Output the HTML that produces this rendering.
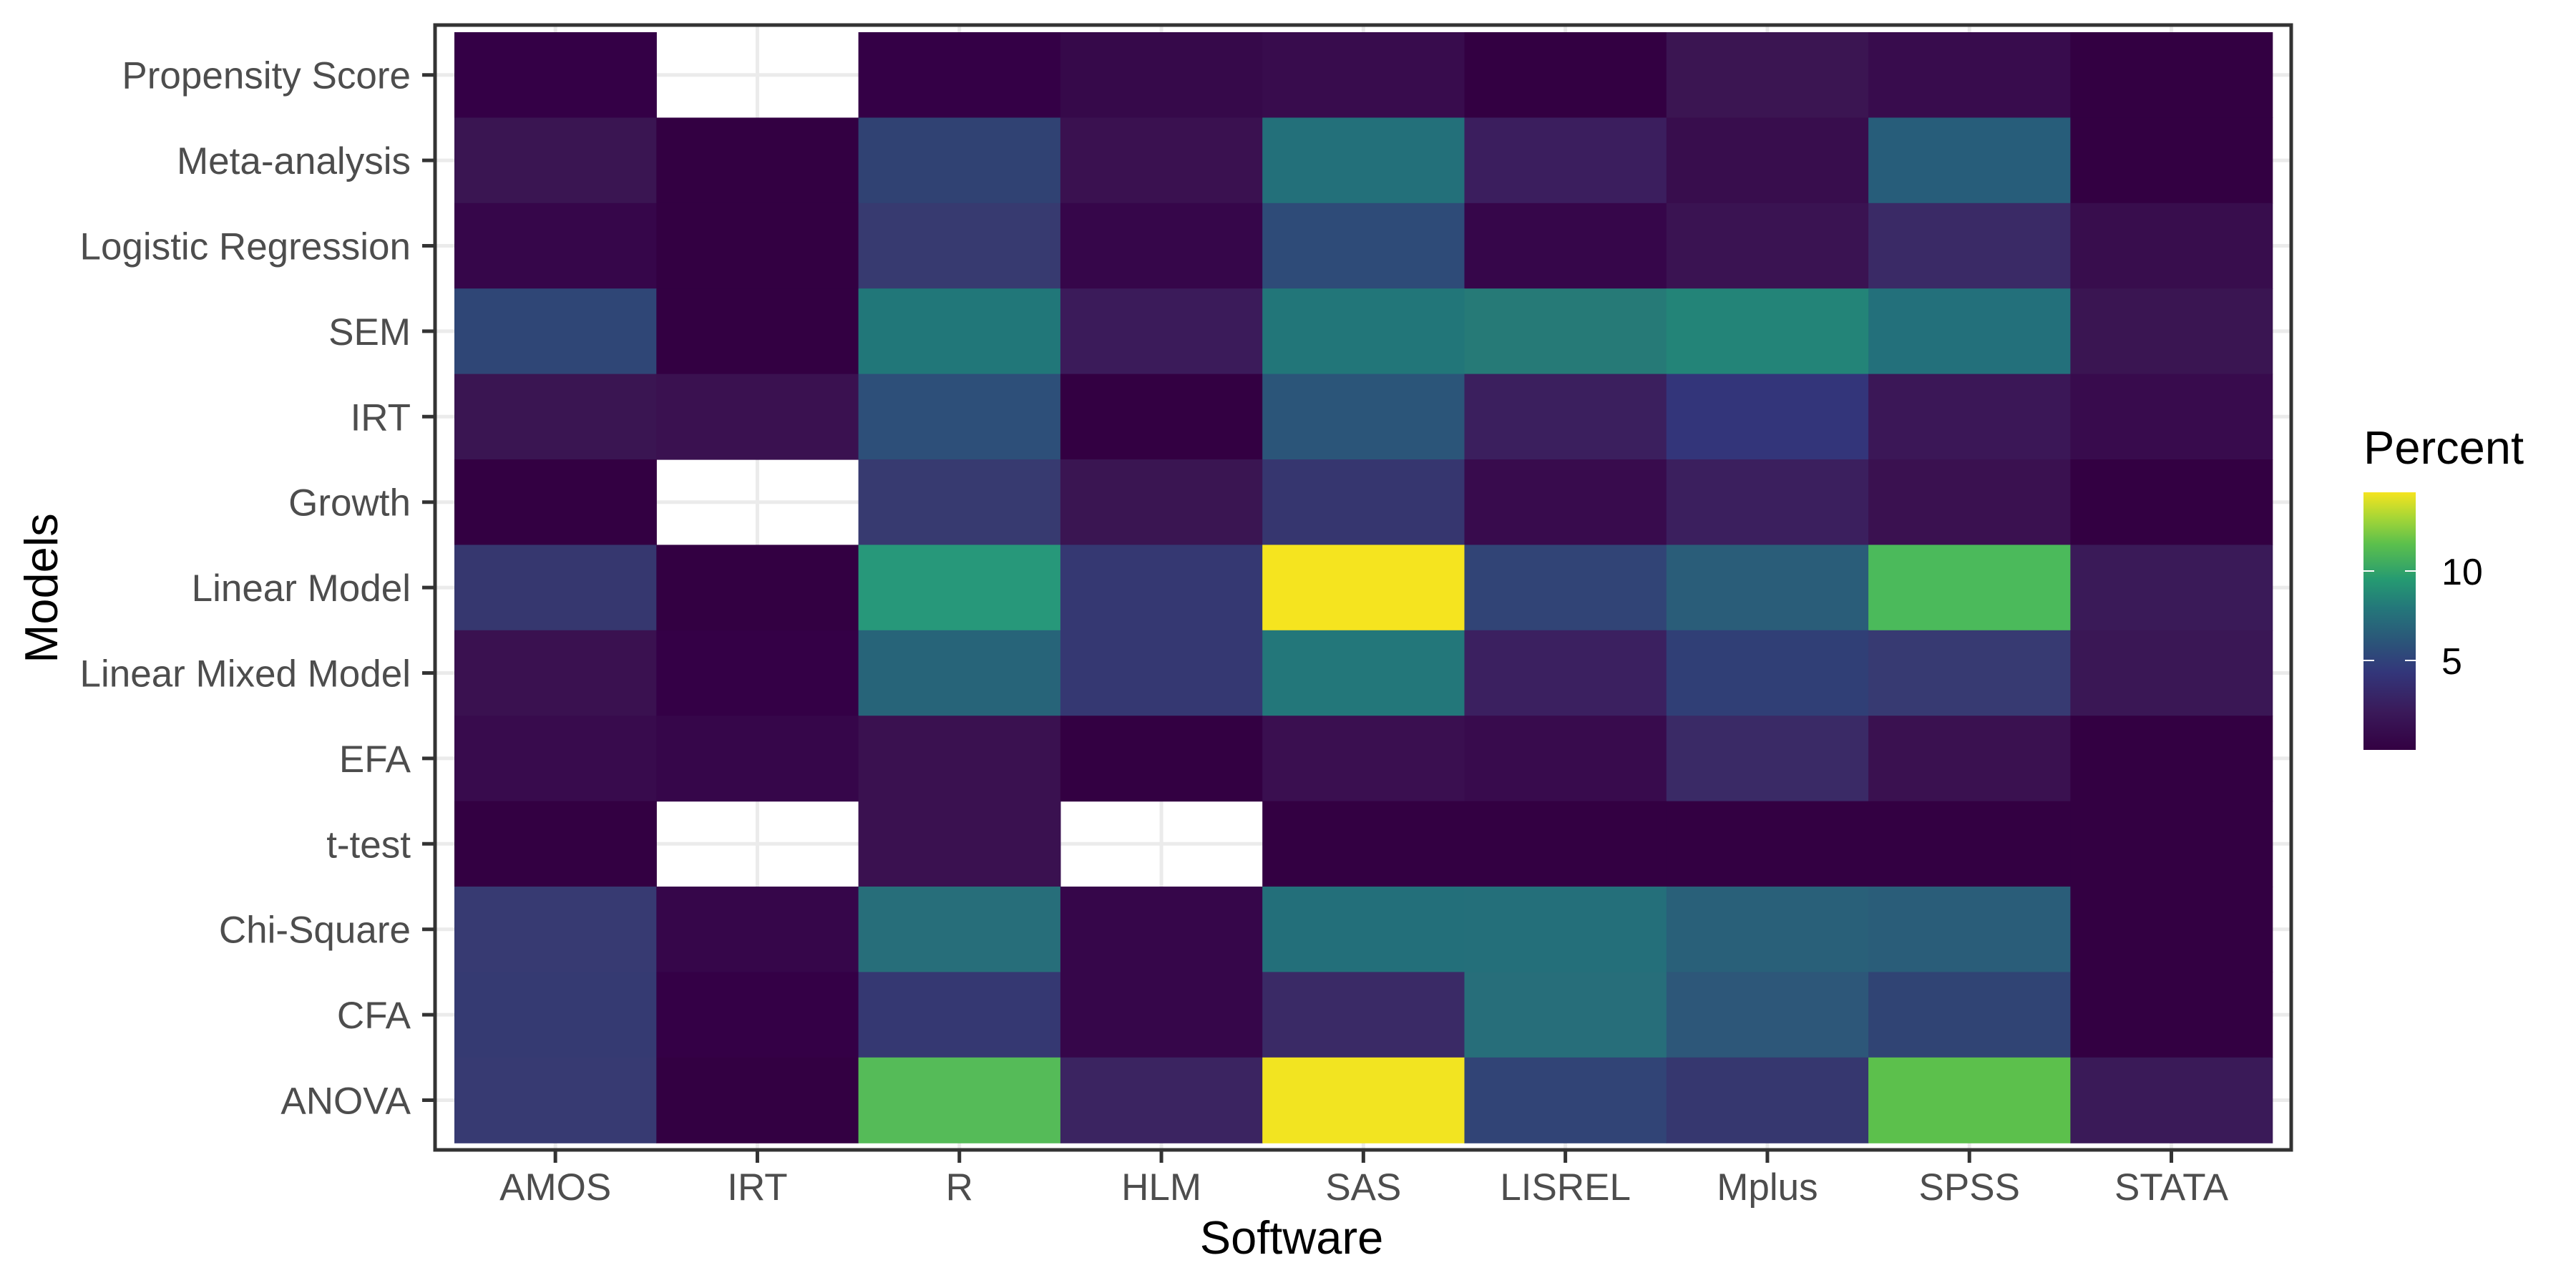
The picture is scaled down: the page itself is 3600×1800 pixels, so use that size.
<!DOCTYPE html>
<html><head><meta charset="utf-8"><style>html,body{margin:0;padding:0;background:#fff}svg{display:block}</style></head>
<body>
<svg xmlns="http://www.w3.org/2000/svg" width="3600" height="1800" viewBox="0 0 3600 1800" font-family="Liberation Sans, Arial, sans-serif">
<defs>
<linearGradient id="vg" x1="0" y1="1" x2="0" y2="0">
<stop offset="0" stop-color="#330042"/>
<stop offset="0.15" stop-color="#3a1a5a"/>
<stop offset="0.3" stop-color="#33367a"/>
<stop offset="0.42" stop-color="#2b5579"/>
<stop offset="0.55" stop-color="#24777a"/>
<stop offset="0.66" stop-color="#259a72"/>
<stop offset="0.8" stop-color="#5cc04c"/>
<stop offset="0.9" stop-color="#a5d636"/>
<stop offset="1" stop-color="#f5e41f"/>
</linearGradient>
</defs>
<rect width="3600" height="1800" fill="#fff"/>
<g id="grid" stroke="#ebebeb" stroke-width="5"></g>
<g id="tiles"></g>
<rect x="608" y="35" width="2594" height="1572" fill="none" stroke="#333" stroke-width="5"/>
<g id="ticks" stroke="#333" stroke-width="5"></g>
<g id="ylab" fill="#4d4d4d" font-size="53" text-anchor="end"></g>
<g id="xlab" fill="#4d4d4d" font-size="53" text-anchor="middle"></g>
<text x="1805" y="1752" font-size="65" text-anchor="middle" fill="#000">Software</text>
<text transform="translate(80,822) rotate(-90)" font-size="65" text-anchor="middle" fill="#000">Models</text>
<text x="3303" y="648" font-size="65" fill="#000">Percent</text>
<rect x="3303" y="688" width="73" height="360" fill="url(#vg)"/>
<g stroke="#fff" stroke-width="2">
<line x1="3303" y1="798" x2="3318" y2="798"/><line x1="3361" y1="798" x2="3376" y2="798"/>
<line x1="3303" y1="923" x2="3318" y2="923"/><line x1="3361" y1="923" x2="3376" y2="923"/>
</g>
<text x="3412" y="817" font-size="52" fill="#000">10</text>
<text x="3412" y="942" font-size="52" fill="#000">5</text>
<script>
var cols=["AMOS","IRT","R","HLM","SAS","LISREL","Mplus","SPSS","STATA"];
var rows=["Propensity Score","Meta-analysis","Logistic Regression","SEM","IRT","Growth","Linear Model","Linear Mixed Model","EFA","t-test","Chi-Square","CFA","ANOVA"];
var W="none";
var C=[
["#340046",W,"#340046","#36094a","#380c4d","#330042","#3b1552","#380c4d","#330042"],
["#3a1552","#330042","#304273","#3a1150","#23707a","#3b1e5e","#380d4d","#275d7a","#330042"],
["#36064a","#330042","#373a70","#36064a","#2e4b78","#36064a","#3a1352","#3a2a66","#380d4d"],
["#2f4676","#330042","#217779","#3b1b5a","#227679","#267a77","#238478","#23707b","#3a1552"],
["#3a1552","#3a1150","#2d4f79","#330042","#2b5579","#3b1f5e","#33357a","#3b1757","#380b4d"],
["#330042",W,"#373a70","#3a1552","#36366f","#380b4d","#3b1f5e","#3a1150","#330042"],
["#36376f","#330042","#27987a","#353872","#f5e41f","#314476","#2a5d79","#4bba5b","#3a1a58"],
["#3a1150","#340046","#276479","#353872","#23777a","#3b2060","#303f76","#373a72","#3a1755"],
["#380b4d","#36064a","#3a1150","#330042","#3a0f50","#380b4d","#3a2a66","#3a1150","#330042"],
["#330042",W,"#3a1150",W,"#330042","#330042","#330042","#330042","#330042"],
["#373a72","#36064a","#276e7a","#36064a","#236f7a","#246f7a","#296079","#2a5d79","#330042"],
["#353a72","#340046","#353872","#36064a","#3a2a66","#276e7a","#2d5779","#304474","#330042"],
["#373a72","#330042","#55bb58","#3b2461","#f2e421","#314476","#36376f","#5cc04c","#3a1a58"]];
var x0=635,cw=282.3,y0=45,rh=119.4,ns="http://www.w3.org/2000/svg";
function el(g,t,a,txt){var e=document.createElementNS(ns,t);for(var k in a)e.setAttribute(k,a[k]);if(txt)e.textContent=txt;document.getElementById(g).appendChild(e);}
for(var i=0;i<9;i++){var cx=x0+cw*(i+0.5);el("grid","line",{x1:cx,y1:35,x2:cx,y2:1607});el("ticks","line",{x1:cx,y1:1607,x2:cx,y2:1625});el("xlab","text",{x:cx,y:1677},cols[i]);}
for(var j=0;j<13;j++){var cy=y0+rh*(j+0.5);el("grid","line",{x1:608,y1:cy,x2:3202,y2:cy});el("ticks","line",{x1:590,y1:cy,x2:608,y2:cy});el("ylab","text",{x:574,y:cy+19},rows[j]);
for(var i=0;i<9;i++){if(C[j][i]!=W)el("tiles","rect",{x:x0+cw*i,y:y0+rh*j,width:cw+0.6,height:rh+0.6,fill:C[j][i]});}}
</script>
</svg>
</body></html>
